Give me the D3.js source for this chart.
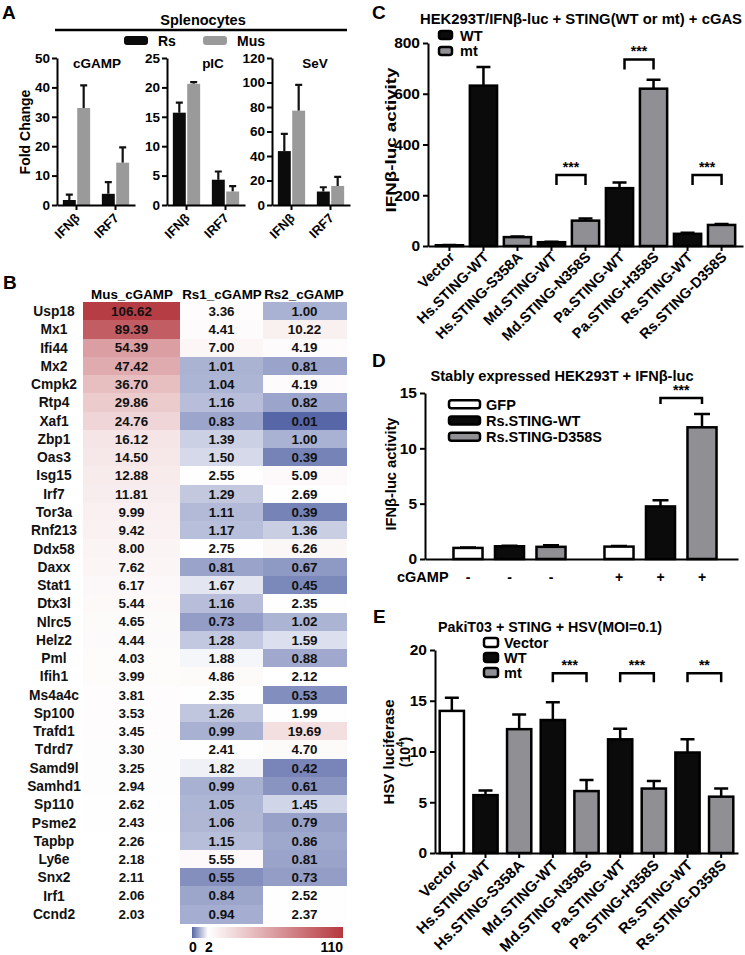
<!DOCTYPE html>
<html><head><meta charset="utf-8">
<script src="https://cdn.jsdelivr.net/npm/d3@7"></script>
<style>body{margin:0;background:#fff}svg{display:block}</style>
</head><body><svg id="chart" width="745" height="955"></svg>
<script>
// ---------- Panel A data ----------
const aStimuli = ["cGAMP", "pIC", "SeV"];
const aGenes = ["IFNβ", "IRF7"];
const aSeries = ["Rs", "Mus"];
const aYMax = [50, 25, 120];
const aYTicks = [[0, 10, 20, 30, 40, 50], [0, 5, 10, 15, 20, 25], [0, 20, 40, 60, 80, 100, 120]];
const aRsMean = [[1.7, 3.8], [15.7, 4.3], [44, 11]];
const aRsErr = [[1.8, 4.0], [1.7, 1.4], [14, 3.5]];
const aMusMean = [[33, 14.4], [20.6, 2.3], [77, 15.5]];
const aMusErr = [[7.7, 5.2], [0.3, 0.9], [21, 7.5]];

// ---------- Panel B data ----------
const bCols = ["Mus_cGAMP", "Rs1_cGAMP", "Rs2_cGAMP"];
const bGenes = ["Usp18","Mx1","Ifi44","Mx2","Cmpk2","Rtp4","Xaf1","Zbp1","Oas3","Isg15","Irf7","Tor3a","Rnf213","Ddx58","Daxx","Stat1","Dtx3l","Nlrc5","Helz2","Pml","Ifih1","Ms4a4c","Sp100","Trafd1","Tdrd7","Samd9l","Samhd1","Sp110","Psme2","Tapbp","Ly6e","Snx2","Irf1","Ccnd2"];
const bMus = [106.62,89.39,54.39,47.42,36.70,29.86,24.76,16.12,14.50,12.88,11.81,9.99,9.42,8.00,7.62,6.17,5.44,4.65,4.44,4.03,3.99,3.81,3.53,3.45,3.30,3.25,2.94,2.62,2.43,2.26,2.18,2.11,2.06,2.03];
const bRs1 = [3.36,4.41,7.00,1.01,1.04,1.16,0.83,1.39,1.50,2.55,1.29,1.11,1.17,2.75,0.81,1.67,1.16,0.73,1.28,1.88,4.86,2.35,1.26,0.99,2.41,1.82,0.99,1.05,1.06,1.15,5.55,0.55,0.84,0.94];
const bRs2 = [1.00,10.22,4.19,0.81,4.19,0.82,0.01,1.00,0.39,5.09,2.69,0.39,1.36,6.26,0.67,0.45,2.35,1.02,1.59,0.88,2.12,0.53,1.99,19.69,4.70,0.42,0.61,1.45,0.79,0.86,0.81,0.73,2.52,2.37];
const bScaleStops = [0, 2, 110];

// ---------- Panel C data ----------
const cCats = ["Vector","Hs.STING-WT","Hs.STING-S358A","Md.STING-WT","Md.STING-N358S","Pa.STING-WT","Pa.STING-H358S","Rs.STING-WT","Rs.STING-D358S"];
const cType = ["vec","WT","mt","WT","mt","WT","mt","WT","mt"];
const cMean = [3, 632, 35, 15, 100, 228, 620, 48, 83];
const cErr = [1, 73, 2, 2, 8, 22, 35, 4, 4];
const cYTicks = [0, 200, 400, 600, 800];
const cSig = [["Md.STING-WT","Md.STING-N358S","***"],["Pa.STING-WT","Pa.STING-H358S","***"],["Rs.STING-WT","Rs.STING-D358S","***"]];
const cSigLevel = [280, 735, 280];

// ---------- Panel D data ----------
const dCats = ["GFP","Rs.STING-WT","Rs.STING-D358S"];
const dCgamp = ["-","+"];
const dGroup = ["-","-","-","+","+","+"];
const dCat = ["GFP","Rs.STING-WT","Rs.STING-D358S","GFP","Rs.STING-WT","Rs.STING-D358S"];
const dType = ["vec","WT","mt","vec","WT","mt"];
const dMean = [1.0, 1.15, 1.1, 1.12, 4.75, 11.9];
const dErr = [0.04, 0.05, 0.15, 0.05, 0.55, 1.2];
const dYTicks = [0, 5, 10, 15];

// ---------- Panel E data ----------
const eCats = cCats;
const eType = ["vec","WT","mt","WT","mt","WT","mt","WT","mt"];
const eMean = [14.0, 5.7, 12.2, 13.1, 6.1, 11.2, 6.35, 9.9, 5.55];
const eErr = [1.3, 0.45, 1.45, 1.75, 1.1, 1.05, 0.75, 1.3, 0.8];
const eYTicks = [0, 5, 10, 15, 20];
const eSig = [["Md.STING-WT","Md.STING-N358S","***"],["Pa.STING-WT","Pa.STING-H358S","***"],["Rs.STING-WT","Rs.STING-D358S","**"]];
const eSigLevel = [17.7, 17.7, 17.7];

// ---------- helpers ----------
const FF = '"Liberation Sans", Arial, Helvetica, sans-serif';
const fillOf = {vec: "#ffffff", WT: "#0b0b0b", mt: "#8f8f94"};
const svg = d3.select("#chart");

function txt(g, x, y, s, size, anchor) {
  return g.append("text").attr("x", x).attr("y", y).text(s)
    .attr("font-family", FF).attr("font-weight", "bold").attr("font-size", size)
    .attr("text-anchor", anchor || "middle").attr("fill", "#000");
}
function vtxt(g, x, y, s, size) {
  return g.append("text").attr("transform", `translate(${x},${y}) rotate(-90)`)
    .attr("text-anchor", "middle").attr("font-family", FF).attr("font-weight", "bold")
    .attr("font-size", size).attr("fill", "#000").text(s);
}
function styleAxis(sel, size) {
  sel.select(".domain").attr("stroke", "#000").attr("stroke-width", 2);
  sel.selectAll(".tick line").attr("stroke", "#000").attr("stroke-width", 2);
  sel.selectAll(".tick text").attr("font-family", FF).attr("font-weight", "bold")
    .attr("font-size", size).attr("fill", "#000");
}
function errPath(xc, y0, y1, half) {
  return `M${xc},${y0}V${y1}M${xc - half},${y1}H${xc + half}`;
}
function bracket(g, x1, x2, yTop, leg, label, fs) {
  g.append("path").attr("d", `M${x1},${yTop + leg}V${yTop}H${x2}V${yTop + leg}`)
    .attr("fill", "none").attr("stroke", "#000").attr("stroke-width", 2.5);
  txt(g, (x1 + x2) / 2, yTop - 3, label, fs);
}
function legendRect(g, x, y, w, h, fill) {
  g.append("rect").attr("x", x).attr("y", y).attr("width", w).attr("height", h)
    .attr("rx", 2.5).attr("fill", fill).attr("stroke", "#000").attr("stroke-width", 2.5);
}

// ================= Panel A =================
const gA = svg.append("g");
txt(gA, 2, 19, "A", 19, "start");
txt(gA, 203, 25, "Splenocytes", 14.5);
gA.append("line").attr("x1", 55).attr("x2", 347).attr("y1", 30).attr("y2", 30)
  .attr("stroke", "#000").attr("stroke-width", 2.5);
const aColor = d3.scaleOrdinal(aSeries, ["#0b0b0b", "#9a9a9a"]);
const aLegX = d3.scaleOrdinal(aSeries, [124, 203]);
aSeries.forEach(s => {
  gA.append("rect").attr("x", aLegX(s)).attr("y", 36).attr("width", 24).attr("height", 9)
    .attr("rx", 3).attr("fill", aColor(s));
  txt(gA, aLegX(s) + 34, 45.5, s, 14, "start");
});
vtxt(gA, 30, 132, "Fold Change", 14);
const aLeft = d3.scaleOrdinal(aStimuli, [57, 167, 272]);
const aTitleX = d3.scaleOrdinal(aStimuli, [97, 213, 315]);
aStimuli.forEach((st, i) => {
  const x0 = aLeft(st);
  const y = d3.scaleLinear().domain([0, aYMax[i]]).range([205, 58]);
  const xg = d3.scaleBand().domain(aGenes).range([x0, x0 + 78]).paddingInner(0.3).paddingOuter(0.15);
  const xs = d3.scaleBand().domain(aSeries).range([0, xg.bandwidth()]).paddingInner(0.1);
  const g = gA.append("g");
  const rows = [];
  aGenes.forEach((gn, j) => {
    rows.push({gene: gn, s: "Rs", m: aRsMean[i][j], e: aRsErr[i][j]});
    rows.push({gene: gn, s: "Mus", m: aMusMean[i][j], e: aMusErr[i][j]});
  });
  g.selectAll("path.err").data(rows).join("path").attr("class", "err")
    .attr("d", d => errPath(xg(d.gene) + xs(d.s) + xs.bandwidth() / 2, y(d.m), y(d.m + d.e), 3.5))
    .attr("stroke", "#111").attr("stroke-width", 2.2).attr("fill", "none");
  g.selectAll("rect.bar").data(rows).join("rect").attr("class", "bar")
    .attr("x", d => xg(d.gene) + xs(d.s)).attr("width", xs.bandwidth())
    .attr("y", d => y(d.m)).attr("height", d => y(0) - y(d.m))
    .attr("fill", d => aColor(d.s));
  const ya = g.append("g").attr("transform", `translate(${x0},0)`)
    .call(d3.axisLeft(y).tickValues(aYTicks[i]).tickSize(5).tickPadding(2).tickSizeOuter(0));
  styleAxis(ya, 13.5);
  const xa = g.append("g").attr("transform", "translate(0,205)")
    .call(d3.axisBottom(xg).tickSize(5).tickSizeOuter(0));
  styleAxis(xa, 13);
  xa.selectAll(".tick text").attr("x", 0).attr("y", 0).attr("dy", 0)
    .attr("text-anchor", "end").attr("transform", "translate(4,14) rotate(-45)");
  txt(g, aTitleX(st), 68, st, 13.5);
});

// ================= Panel B =================
const gB = svg.append("g");
txt(gB, 3, 289, "B", 19, "start");
const bY = d3.scaleBand().domain(bGenes).range([302, 923]);
const bLeft = d3.scaleOrdinal(bCols, [83, 180, 263]);
const bRight = d3.scaleOrdinal(bCols, [180, 263, 346]);
const bColor = d3.scaleLinear().domain(bScaleStops).range(["#5565a6", "#ffffff", "#b5373f"]);
const bVals = [bMus, bRs1, bRs2];
const cells = [];
bCols.forEach((c, k) => bGenes.forEach((gn, r) => cells.push({c, gn, v: bVals[k][r]})));
gB.selectAll("rect.cell").data(cells).join("rect").attr("class", "cell")
  .attr("x", d => bLeft(d.c)).attr("width", d => bRight(d.c) - bLeft(d.c) + 0.5)
  .attr("y", d => bY(d.gn)).attr("height", bY.bandwidth() + 0.5)
  .attr("fill", d => bColor(d.v)).attr("shape-rendering", "crispEdges");
gB.selectAll("text.val").data(cells).join("text").attr("class", "val")
  .attr("x", d => (bLeft(d.c) + bRight(d.c)) / 2).attr("y", d => bY(d.gn) + bY.bandwidth() / 2)
  .attr("dy", "0.36em").attr("text-anchor", "middle").attr("font-family", FF)
  .attr("font-weight", "bold").attr("font-size", 13.4).attr("fill", "#111")
  .text(d => d.v.toFixed(2));
gB.selectAll("text.gene").data(bGenes).join("text").attr("class", "gene")
  .attr("x", 54).attr("y", d => bY(d) + bY.bandwidth() / 2).attr("dy", "0.36em")
  .attr("text-anchor", "middle").attr("font-family", FF).attr("font-weight", "bold")
  .attr("font-size", 13.8).attr("fill", "#111").text(d => d);
const bHeadX = d3.scaleOrdinal(bCols, [132, 222, 304]);
bCols.forEach(c => txt(gB, bHeadX(c), 299, c, 13.4));
// color bar
const cbX = d3.scaleLinear().domain(bScaleStops).range([192, 208, 343]);
const defs = svg.append("defs");
const grad = defs.append("linearGradient").attr("id", "cbgrad").attr("x1", "0%").attr("x2", "100%");
bScaleStops.forEach(v => grad.append("stop")
  .attr("offset", ((cbX(v) - cbX(0)) / (cbX(110) - cbX(0)) * 100) + "%")
  .attr("stop-color", bColor(v)));
gB.append("rect").attr("x", cbX(0)).attr("y", 927).attr("width", cbX(110) - cbX(0))
  .attr("height", 11).attr("fill", "url(#cbgrad)");
txt(gB, cbX(0) + 1, 952, "0", 14);
txt(gB, cbX(2) + 1, 952, "2", 14);
txt(gB, cbX(110), 952, "110", 14, "end");

// ================= generic bar chart (C, E) =================
function barChart(g, o) {
  const x = d3.scaleBand().domain(o.cats).range(o.xr).paddingInner(o.pi).paddingOuter(o.po);
  const y = d3.scaleLinear().domain(o.yd).range(o.yr);
  const rows = o.cats.map((c, i) => ({c, t: o.type[i], m: o.mean[i], e: o.err[i]}));
  g.selectAll("path.err").data(rows).join("path").attr("class", "err")
    .attr("d", d => errPath(x(d.c) + x.bandwidth() / 2, y(d.m), y(d.m + d.e), o.cap))
    .attr("stroke", "#000").attr("stroke-width", 2.5).attr("fill", "none");
  g.selectAll("rect.bar").data(rows).join("rect").attr("class", "bar")
    .attr("x", d => x(d.c)).attr("width", x.bandwidth())
    .attr("y", d => y(d.m)).attr("height", d => y(0) - y(d.m))
    .attr("fill", d => fillOf[d.t]).attr("stroke", "#000").attr("stroke-width", 2.5);
  const ya = g.append("g").attr("transform", `translate(${o.xr[0]},0)`)
    .call(d3.axisLeft(y).tickValues(o.ticks).tickSize(5).tickPadding(3).tickSizeOuter(0));
  styleAxis(ya, o.tickFs);
  const xa = g.append("g").attr("transform", `translate(0,${o.yr[0]})`)
    .call(d3.axisBottom(x).tickSize(5).tickSizeOuter(0));
  styleAxis(xa, o.labFs);
  xa.selectAll(".tick text").attr("x", 0).attr("y", 0).attr("dy", 0)
    .attr("text-anchor", "end").attr("transform", o.labT);
  o.sig.forEach((s, k) => {
    const x1 = x(s[0]) + x.bandwidth() / 2 + o.sigOff, x2 = x(s[1]) + x.bandwidth() / 2;
    bracket(g, x1, x2, y(o.sigLevel[k]), o.leg, s[2], 14);
  });
  return {x, y};
}

// ================= Panel C =================
const gC = svg.append("g");
txt(gC, 372, 19, "C", 19, "start");
txt(gC, 581, 23.5, "HEK293T/IFNβ-luc + STING(WT or mt) + cGAS", 14).attr("textLength", 322)
  .attr("lengthAdjust", "spacingAndGlyphs");
barChart(gC, {cats: cCats, type: cType, mean: cMean, err: cErr, xr: [428, 743], pi: 0.2, po: 0.23,
  yd: [0, 800], yr: [246, 43], ticks: cYTicks, tickFs: 15.5, labFs: 14.5, cap: 7,
  labT: "translate(6,12) rotate(-45)", sig: cSig, sigLevel: cSigLevel, sigOff: 5, leg: 10});
legendRect(gC, 439, 31, 13, 8, fillOf.WT);
legendRect(gC, 439, 47, 13, 8, fillOf.mt);
txt(gC, 460, 40.5, "WT", 14.5, "start");
txt(gC, 460, 56, "mt", 14.5, "start");
vtxt(gC, 396, 140, "IFNβ-luc activity", 15.5).attr("textLength", 145).attr("lengthAdjust", "spacingAndGlyphs");

// ================= Panel D =================
const gD = svg.append("g");
txt(gD, 372, 367, "D", 19, "start");
txt(gD, 562, 381, "Stably expressed HEK293T + IFNβ-luc", 14).attr("textLength", 263)
  .attr("lengthAdjust", "spacingAndGlyphs");
const dY = d3.scaleLinear().domain([0, 15]).range([559, 393]);
const dOuter = d3.scaleBand().domain(dCgamp).range([434, 736]);
const dInner = d3.scaleBand().domain(dCats).range([13.25, 137.75]).paddingInner(0.3).paddingOuter(0.15);
const dRows = dGroup.map((gr, i) => ({gr, c: dCat[i], t: dType[i], m: dMean[i], e: dErr[i]}));
const dX = d => dOuter(d.gr) + dInner(d.c);
gD.selectAll("path.err").data(dRows).join("path")
  .attr("d", d => errPath(dX(d) + dInner.bandwidth() / 2, dY(d.m), dY(d.m + d.e), 8))
  .attr("stroke", "#000").attr("stroke-width", 2.5).attr("fill", "none");
gD.selectAll("rect.bar").data(dRows).join("rect")
  .attr("x", dX).attr("width", dInner.bandwidth())
  .attr("y", d => dY(d.m)).attr("height", d => dY(0) - dY(d.m))
  .attr("fill", d => fillOf[d.t]).attr("stroke", "#000").attr("stroke-width", 2.5);
const dya = gD.append("g").attr("transform", "translate(425,0)")
  .call(d3.axisLeft(dY).tickValues(dYTicks).tickSize(5).tickPadding(3).tickSizeOuter(0));
styleAxis(dya, 15.5);
const dxa = gD.append("g").attr("transform", "translate(0,559)")
  .call(d3.axisBottom(d3.scaleLinear().range([425, 738])).tickValues([]).tickSizeOuter(0));
styleAxis(dxa, 14);
gD.selectAll("text.sign").data(dRows).join("text")
  .attr("x", d => dX(d) + dInner.bandwidth() / 2).attr("y", 582)
  .attr("text-anchor", "middle").attr("font-family", FF).attr("font-weight", "bold")
  .attr("font-size", 14).text(d => d.gr);
txt(gD, 397, 582, "cGAMP", 14.5, "start");
bracket(gD, dX(dRows[4]) + dInner.bandwidth() / 2, dX(dRows[5]) + dInner.bandwidth() / 2, 398, 6, "***", 14);
const dLegY = d3.scaleBand().domain(dCats).range([396, 445]);
dCats.forEach((c, i) => {
  legendRect(gD, 449, dLegY(c) + dLegY.bandwidth() / 2 - 4, 31, 8, fillOf[dType[i]]);
  txt(gD, 486, dLegY(c) + dLegY.bandwidth() / 2 + 5.5, c, 14.5, "start");
});
vtxt(gD, 396, 474, "IFNβ-luc activity", 15).attr("textLength", 113).attr("lengthAdjust", "spacingAndGlyphs");

// ================= Panel E =================
const gE = svg.append("g");
txt(gE, 373, 623, "E", 19, "start");
txt(gE, 550, 632, "PakiT03 + STING + HSV(MOI=0.1)", 14).attr("textLength", 224)
  .attr("lengthAdjust", "spacingAndGlyphs");
barChart(gE, {cats: eCats, type: eType, mean: eMean, err: eErr, xr: [435, 738], pi: 0.28, po: 0.14,
  yd: [0, 20], yr: [853, 650], ticks: eYTicks, tickFs: 15.5, labFs: 15, cap: 7,
  labT: "translate(6,13) rotate(-45)", sig: eSig, sigLevel: eSigLevel, sigOff: 0, leg: 9});
const eKeys = ["vec", "WT", "mt"];
const eLegY = d3.scaleBand().domain(eKeys).range([635, 680]);
const eLegLab = d3.scaleOrdinal(eKeys, ["Vector", "WT", "mt"]);
eKeys.forEach(t => {
  legendRect(gE, 484, eLegY(t) + eLegY.bandwidth() / 2 - 4.5, 14, 9, fillOf[t]);
  txt(gE, 504, eLegY(t) + eLegY.bandwidth() / 2 + 5, eLegLab(t), 14.5, "start");
});
vtxt(gE, 394, 752, "HSV luciferase", 15);
const eT2 = vtxt(gE, 410, 752, "", 14);
eT2.append("tspan").text("(10");
eT2.append("tspan").attr("dy", -6).attr("font-size", 10).text("4");
eT2.append("tspan").attr("dy", 6).text(")");
</script>
</body></html>
